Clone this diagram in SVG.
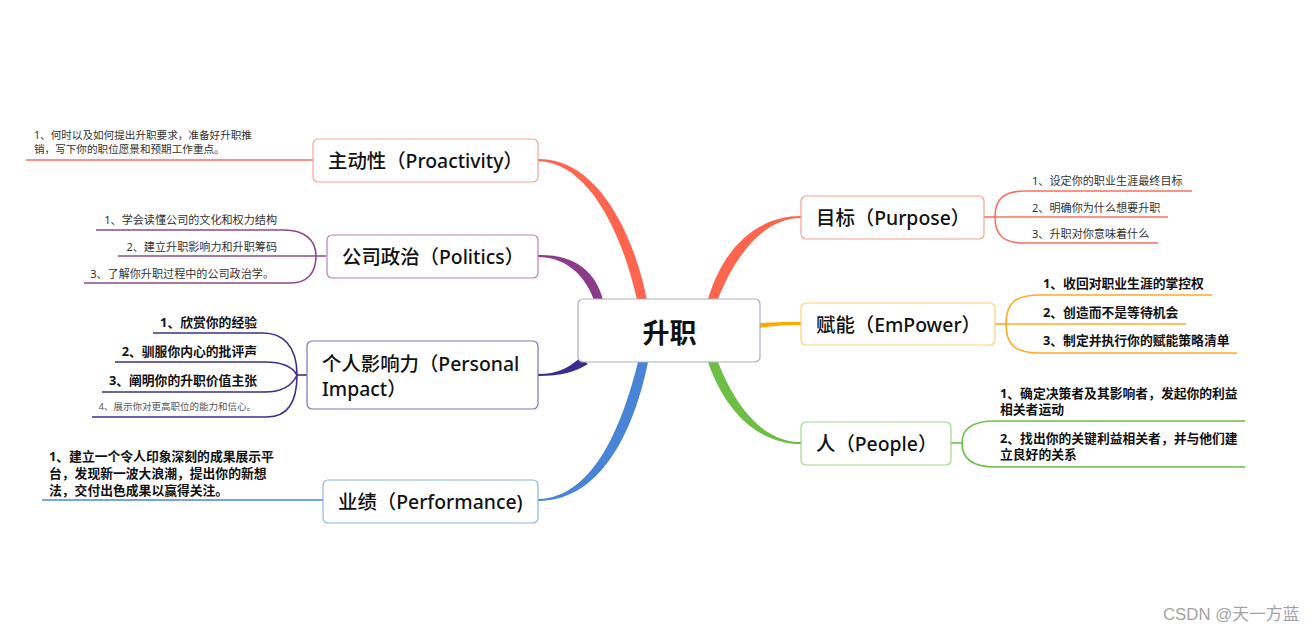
<svg xmlns="http://www.w3.org/2000/svg" width="1314" height="633" viewBox="0 0 1314 633">
<style>
text{font-family:"Noto Sans","Noto Sans CJK SC",sans-serif;dominant-baseline:central;fill:#111}
.topic{font-size:19.4px;font-weight:500}
.center{font-size:27px;font-weight:bold}
.n{font-size:11.1px;fill:#333}
.p{font-size:10.6px;fill:#333}
.b{font-size:12.8px;font-weight:bold}
.s{font-size:9.5px;fill:#555}
.box{fill:#fff;stroke-width:1.2}
.leaf{fill:none;stroke-width:1.6}
.wm{font-family:"Liberation Sans","Noto Sans CJK SC",sans-serif;font-size:16.8px;fill:#a3a3a3}
</style>
<rect width="1314" height="633" fill="#fff"/>
<g id="connectors">
<path d="M538,159 C594,158 632,226 647,300 L637,300 C622,232 588,162 538,161 Z" fill="#fd654f"/>
<path d="M538,255 C575,254 596,272 603,300 L594,300 C586,278 568,257 538,257 Z" fill="#8c3b88"/>
<path d="M538,374 C558,374 568,368 580,358 L588,364 C575,372 562,376 538,376 Z" fill="#3c2b8d"/>
<path d="M538,499 C596,498 624,418 638,362 L648,362 C636,422 605,501 538,501 Z" fill="#4a84d6"/>
<path d="M708,299 C724,246 758,216 801,216 L801,218 C764,218 736,254 718,299 Z" fill="#fd654f"/>
<path d="M760,323 C778,322 788,322 801,322 L801,325 C788,325 778,325 760,328 Z" fill="#ffa800"/>
<path d="M708,362 C726,414 760,444 801,444 L801,442 C764,442 736,408 718,362 Z" fill="#6cbe45"/>
<g class="leaf" stroke="#f66e62"><path d="M313,160 L26,160"/></g>
<g class="leaf" stroke="#8e4a8c"><path d="M326,256 L118,256"/><path d="M316,256 C316,238 302,230 284,230 L96,230"/><path d="M316,256 C316,274 306,283 291,283 L84,283"/></g>
<g class="leaf" stroke="#3d2f8a"><path d="M307,375 L297,375"/><path d="M297,375 C297,345 282,333 263,333 L153,333"/><path d="M297,375 C292,366 282,362 265,362 L115,362"/><path d="M297,375 C292,386 282,392 265,392 L102,392"/><path d="M297,375 C297,405 285,417 267,417 L92,417"/></g>
<g class="leaf" stroke="#4b86d6"><path d="M323,500 L42,500"/></g>
<g class="leaf" stroke="#f86f60"><path d="M984,217 L995,217"/><path d="M995,217 C995,198 1005,191 1025,191 L1192,191"/><path d="M995,217 L1168,217"/><path d="M995,217 C995,237 1005,243 1025,243 L1158,243"/></g>
<g class="leaf" stroke="#ffaa22"><path d="M995,324 L1006,324"/><path d="M1006,324 C1006,302 1016,295 1040,295 L1212,295"/><path d="M1006,324 L1186,324"/><path d="M1006,324 C1006,346 1016,353 1040,353 L1237,353"/></g>
<g class="leaf" stroke="#6cbf4a"><path d="M951,443 L962,443"/><path d="M962,443 C962,427 975,421 995,421 L1245,421"/><path d="M962,443 C962,460 975,467 995,467 L1245,467"/></g>
</g>
<g id="center">
<rect class="box" x="578" y="299" width="182" height="63" rx="5" stroke="#a8afc0"/>
<text class="center" x="669.5" y="332" text-anchor="middle">升职</text>
</g>
<g id="proactivity">
<rect class="box" x="313" y="139" width="225" height="43" rx="5" stroke="#f4a49a"/>
<text class="topic" x="328" y="160">主动性（Proactivity）</text>
<text class="p" x="34" y="135">1、何时以及如何提出升职要求，准备好升职推</text>
<text class="p" x="34" y="149">销，写下你的职位愿景和预期工作重点。</text>
</g>
<g id="politics">
<rect class="box" x="327" y="235" width="211" height="43" rx="5" stroke="#b982b5"/>
<text class="topic" x="342" y="256.5">公司政治（Politics）</text>
<text class="n" x="277" y="219" text-anchor="end">1、学会读懂公司的文化和权力结构</text>
<text class="n" x="277" y="246" text-anchor="end">2、建立升职影响力和升职筹码</text>
<text class="n" x="274" y="273" text-anchor="end">3、了解你升职过程中的公司政治学。</text>
</g>
<g id="personal">
<rect class="box" x="307" y="341" width="231" height="68" rx="5" stroke="#7d74b8"/>
<text class="topic" x="322" y="363">个人影响力（Personal</text>
<text class="topic" x="322" y="388">Impact）</text>
<text class="b" x="257" y="322" text-anchor="end">1、欣赏你的经验</text>
<text class="b" x="257" y="351" text-anchor="end">2、驯服你内心的批评声</text>
<text class="b" x="257" y="380" text-anchor="end">3、阐明你的升职价值主张</text>
<text class="s" x="256" y="406" text-anchor="end">4、展示你对更高职位的能力和信心。</text>
</g>
<g id="performance">
<rect class="box" x="323" y="480" width="215" height="43" rx="5" stroke="#8cb3e6"/>
<text class="topic" x="338" y="501.5">业绩（Performance)</text>
<text class="b" x="49" y="456">1、建立一个令人印象深刻的成果展示平</text>
<text class="b" x="49" y="473">台，发现新一波大浪潮，提出你的新想</text>
<text class="b" x="49" y="490">法，交付出色成果以赢得关注。</text>
</g>
<g id="purpose">
<rect class="box" x="801" y="196" width="183" height="43" rx="5" stroke="#f6a092"/>
<text class="topic" x="816" y="217">目标（Purpose）</text>
<text class="n" x="1032" y="180">1、设定你的职业生涯最终目标</text>
<text class="n" x="1032" y="207">2、明确你为什么想要升职</text>
<text class="n" x="1032" y="233">3、升职对你意味着什么</text>
</g>
<g id="empower">
<rect class="box" x="801" y="303" width="194" height="42" rx="5" stroke="#ffd07a"/>
<text class="topic" x="816" y="324">赋能（EmPower）</text>
<text class="b" x="1043" y="283">1、收回对职业生涯的掌控权</text>
<text class="b" x="1043" y="312">2、创造而不是等待机会</text>
<text class="b" x="1043" y="340">3、制定并执行你的赋能策略清单</text>
</g>
<g id="people">
<rect class="box" x="801" y="422" width="150" height="43" rx="5" stroke="#a2d68e"/>
<text class="topic" x="816" y="443">人（People）</text>
<text class="b" x="1000" y="393">1、确定决策者及其影响者，发起你的利益</text>
<text class="b" x="1000" y="409">相关者运动</text>
<text class="b" x="1000" y="438">2、找出你的关键利益相关者，并与他们建</text>
<text class="b" x="1000" y="454">立良好的关系</text>
</g>
<text class="wm" x="1163" y="614">CSDN @天一方蓝</text>
</svg>
